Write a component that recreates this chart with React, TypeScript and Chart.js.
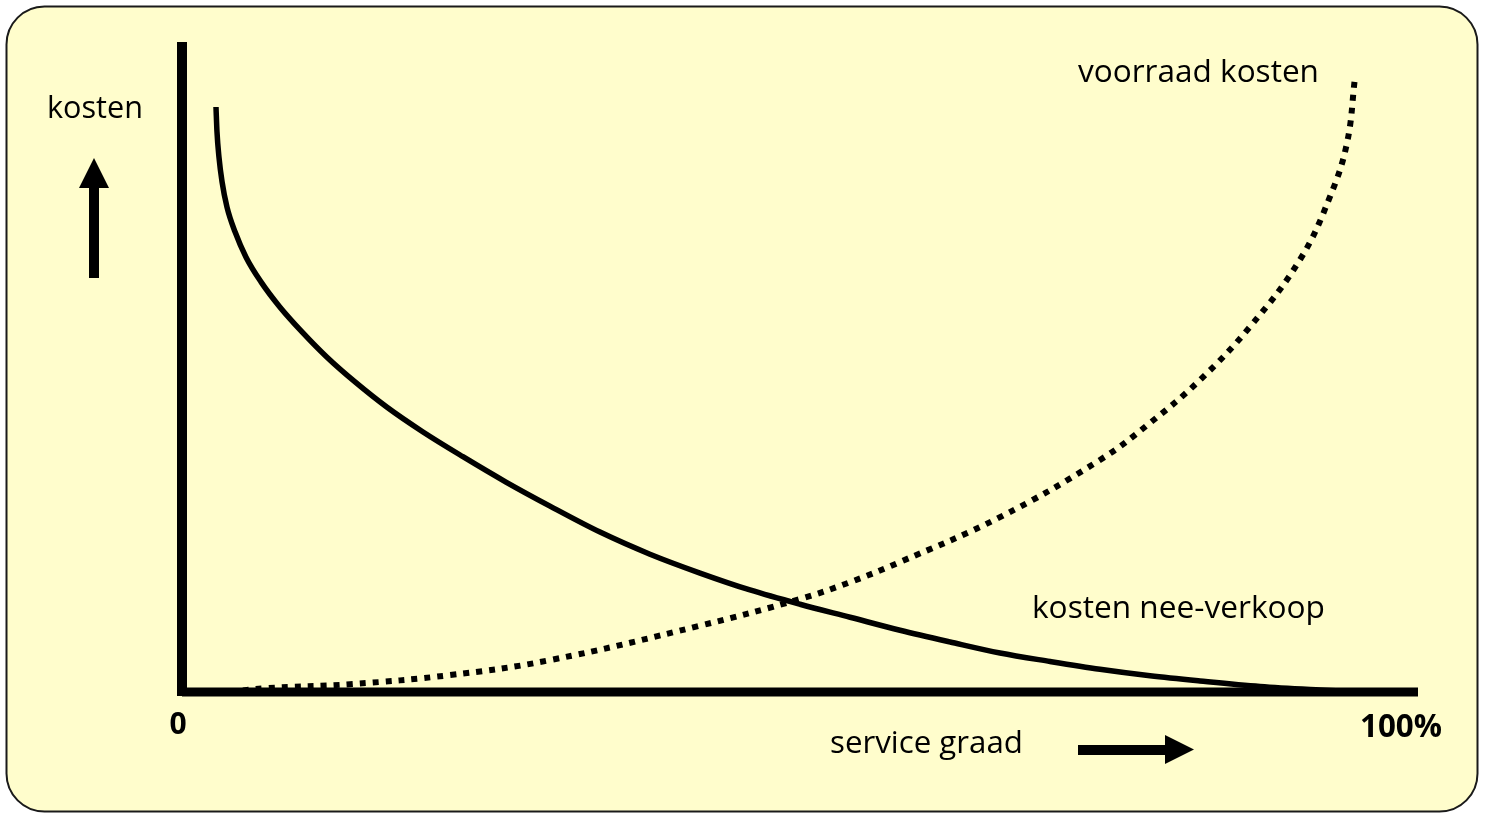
import React, { useEffect, useRef } from "react";
import { Chart, registerables } from "chart.js";
Chart.register(...registerables);

// service graad (%) for the "kosten nee-verkoop" curve
const serviceSolid = [2.75, 2.83, 2.99, 3.24, 3.64, 4.29, 5.18, 6.39, 7.93, 9.71, 11.73, 14.0, 16.59, 19.5, 22.73, 26.21, 29.77, 33.82, 37.86, 41.91, 45.95, 50.0, 54.05, 58.09, 62.14, 66.18, 70.23, 74.27, 78.32, 82.36, 87.22, 92.07, 95.31];
const kostenNeeVerkoop = [90.0, 86.2, 82.3, 78.5, 74.6, 70.8, 66.9, 63.1, 59.2, 55.4, 51.5, 47.7, 43.8, 40.0, 36.2, 32.3, 28.6, 24.6, 21.2, 18.3, 15.7, 13.5, 11.5, 9.5, 7.7, 6.0, 4.7, 3.5, 2.5, 1.7, 0.85, 0.3, 0];

// service graad (%) for the "voorraad kosten" curve
const serviceDotted = [3.88, 6.88, 13.59, 21.68, 29.77, 41.91, 50.0, 54.05, 58.09, 66.18, 74.27, 78.32, 82.36, 86.41, 90.45, 92.88, 94.26, 94.9];
const voorraadKosten = [0, 0.6, 1.2, 2.6, 4.9, 10.2, 14.3, 16.9, 20.0, 26.9, 35.7, 41.4, 48.0, 56.2, 66.5, 76.2, 84.5, 94.5];

const tickLabels = ["0", "100%"];
const tickValues = [0, 100];
const FONT = '"Open Sans", "Noto Sans", sans-serif';

function fitText(ctx: CanvasRenderingContext2D, text: string, x: number, baseline: number, width: number, weight: string) {
  ctx.font = `${weight} 100px ${FONT}`;
  const w = ctx.measureText(text).width;
  const size = (100 * width) / w;
  ctx.font = `${weight} ${size}px ${FONT}`;
  ctx.textAlign = "left";
  ctx.textBaseline = "alphabetic";
  ctx.fillText(text, x, baseline);
}

const decor = {
  id: "decor",
  beforeDraw(chart: any) {
    const ctx: CanvasRenderingContext2D = chart.ctx;
    ctx.save();
    ctx.fillStyle = "#ffffff";
    ctx.fillRect(0, 0, chart.width, chart.height);
    ctx.beginPath();
    (ctx as any).roundRect(6.5, 6.5, 1471, 805, 38);
    ctx.fillStyle = "#FFFDCC";
    ctx.fill();
    ctx.lineWidth = 2;
    ctx.strokeStyle = "#1a1a1a";
    ctx.stroke();
    ctx.restore();
  },
  afterDatasetsDraw(chart: any) {
    const ctx: CanvasRenderingContext2D = chart.ctx;
    const xs = chart.scales.x;
    const ys = chart.scales.y;
    const x0 = xs.getPixelForValue(0);
    const x1 = xs.getPixelForValue(100);
    const y0 = ys.getPixelForValue(0);
    const y1 = ys.getPixelForValue(100);
    ctx.save();
    ctx.fillStyle = "#000";
    // axes
    ctx.fillRect(x0 - 5, y1, 10, y0 - y1 + 4);
    ctx.fillRect(x0, y0 - 4.5, x1 - x0, 9);
    // up arrow
    ctx.fillRect(89, 187, 10, 91);
    ctx.beginPath();
    ctx.moveTo(79, 188);
    ctx.lineTo(109, 188);
    ctx.lineTo(94, 158);
    ctx.closePath();
    ctx.fill();
    // right arrow
    ctx.fillRect(1078, 745, 88, 10);
    ctx.beginPath();
    ctx.moveTo(1165, 735);
    ctx.lineTo(1165, 764);
    ctx.lineTo(1194, 749.5);
    ctx.closePath();
    ctx.fill();
    // texts
    fitText(ctx, "kosten", 47, 118, 96, "400");
    fitText(ctx, "voorraad kosten", 1078, 82, 241, "400");
    fitText(ctx, "kosten nee-verkoop", 1032, 618, 293, "400");
    fitText(ctx, "service graad", 830, 753, 193, "400");
    ctx.textAlign = "center";
    ctx.textBaseline = "alphabetic";
    const offs = [-4, -17];
    const bases = [734, 737];
    tickLabels.forEach((t, i) => {
      ctx.font = `700 30px ${FONT}`;
      if (i === 1) {
        const w = ctx.measureText(t).width;
        const s = (30 * 82) / w;
        ctx.font = `700 ${s}px ${FONT}`;
      }
      ctx.fillText(t, xs.getPixelForValue(tickValues[i]) + offs[i], bases[i]);
    });
    ctx.restore();
  },
};

export default function App() {
  const ref = useRef<HTMLCanvasElement | null>(null);
  useEffect(() => {
    if (!ref.current) return;
    const chart = new Chart(ref.current, {
      type: "line",
      data: {
        datasets: [
          {
            label: "kosten nee-verkoop",
            data: serviceSolid.map((x, i) => ({ x, y: kostenNeeVerkoop[i] })),
            borderColor: "#000",
            borderWidth: 5.5,
            pointRadius: 0,
            cubicInterpolationMode: "monotone",
            fill: false,
            clip: false as any,
          },
          {
            label: "voorraad kosten",
            data: serviceDotted.map((x, i) => ({ x, y: voorraadKosten[i] })),
            borderColor: "#000",
            borderWidth: 6,
            borderDash: [6, 7],
            borderCapStyle: "butt",
            pointRadius: 0,
            tension: 0.4,
            fill: false,
            clip: false as any,
          },
        ],
      },
      options: {
        responsive: false,
        animation: false,
        devicePixelRatio: 1,
        layout: { padding: { left: 182, right: 94, top: 42, bottom: 128 } },
        plugins: { legend: { display: false }, tooltip: { enabled: false } },
        scales: {
          x: { type: "linear", min: 0, max: 100, display: false },
          y: { type: "linear", min: 0, max: 100, display: false },
        },
      },
      plugins: [decor],
    });
    return () => chart.destroy();
  }, []);
  return (
    <div style={{ position: "fixed", left: 0, top: 0, width: 1512, height: 820 }}>
      <canvas ref={ref} width={1512} height={820} style={{ display: "block" }} />
    </div>
  );
}
